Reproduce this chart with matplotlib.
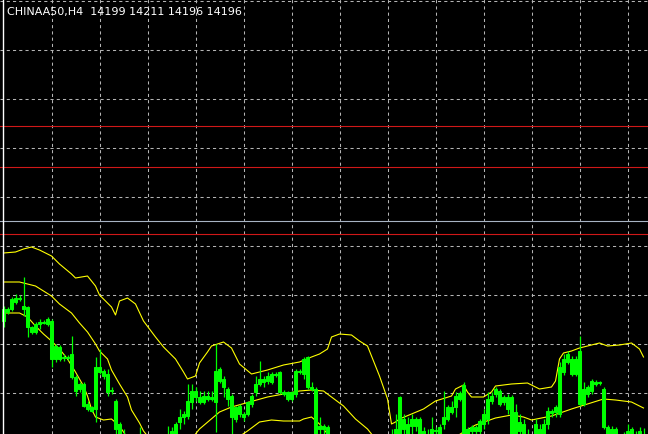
import matplotlib
matplotlib.use("Agg")
import matplotlib.pyplot as plt
import numpy as np


title = "CHINAA50,H4  14199 14211 14196 14196"

# H4 candles, oldest first
opens = [14318, 14330, 14330, 14337, 14341, 14333, 14332, 14312, 14307, 14315,
         14317, 14315, 14318, 14280, 14292, 14281, 14282, 14285, 14262, 14250,
         14255, 14235, 14228, 14230, 14272, 14268, 14265, 14248, 14238, 14215,
         14200, 14195, 14190, 14175, 14190, 14195, 14185, 14180, 14175, 14160,
         14170, 14185, 14208, 14200, 14217, 14222, 14223, 14237, 14248, 14242,
         14237, 14243, 14240, 14237, 14270, 14260, 14250, 14243, 14220, 14233,
         14225, 14225, 14235, 14247, 14255, 14260, 14258, 14257, 14265, 14267,
         14247, 14247, 14240, 14245, 14268, 14265, 14282, 14252, 14250, 14210,
         14213, 14212, 14200, 14190, 14185, 14175, 14170, 14160, 14155, 14150,
         14135, 14135, 14140, 14145, 14155, 14170, 14180, 14190, 14195, 14200,
         14220, 14215, 14213, 14220, 14220, 14208, 14205, 14202, 14209, 14200,
         14215, 14220, 14232, 14232, 14240, 14254, 14210, 14208, 14212, 14208,
         14215, 14220, 14238, 14245, 14248, 14237, 14242, 14242, 14200, 14217,
         14215, 14200, 14200, 14200, 14210, 14205, 14215, 14228, 14227, 14225,
         14267, 14277, 14280, 14265, 14288, 14235, 14252, 14248, 14255, 14257,
         14250, 14212, 14200, 14210, 14200, 14192, 14195, 14210, 14204, 14195,
         14199]
highs = [14333, 14332, 14342, 14345, 14344, 14362, 14333, 14313, 14317, 14320,
         14319, 14322, 14320, 14295, 14294, 14285, 14284, 14303, 14264, 14257,
         14257, 14238, 14233, 14282, 14290, 14270, 14270, 14252, 14240, 14217,
         14210, 14202, 14195, 14195, 14212, 14200, 14195, 14190, 14185, 14190,
         14195, 14213, 14212, 14217, 14230, 14228, 14255, 14255, 14252, 14248,
         14248, 14248, 14248, 14295, 14272, 14263, 14252, 14245, 14233, 14235,
         14227, 14238, 14245, 14263, 14278, 14263, 14267, 14267, 14267, 14268,
         14249, 14248, 14248, 14270, 14270, 14282, 14283, 14257, 14252, 14222,
         14215, 14214, 14205, 14200, 14190, 14180, 14175, 14170, 14165, 14160,
         14155, 14160, 14165, 14170, 14180, 14190, 14200, 14210, 14225, 14243,
         14225, 14222, 14225, 14222, 14222, 14212, 14210, 14222, 14212, 14215,
         14248, 14234, 14238, 14247, 14248, 14257, 14212, 14214, 14214, 14220,
         14230, 14247, 14247, 14252, 14250, 14244, 14245, 14244, 14235, 14225,
         14220, 14210, 14205, 14220, 14215, 14220, 14232, 14230, 14234, 14277,
         14285, 14288, 14283, 14283, 14303, 14257, 14254, 14260, 14259, 14258,
         14252, 14214, 14213, 14212, 14205, 14207, 14215, 14212, 14208, 14212,
         14211]
lows = [14312, 14325, 14328, 14335, 14338, 14323, 14302, 14305, 14305, 14310,
        14315, 14313, 14272, 14277, 14278, 14278, 14279, 14260, 14243, 14247,
        14232, 14228, 14227, 14217, 14265, 14260, 14243, 14245, 14200, 14195,
        14180, 14175, 14165, 14170, 14170, 14162, 14160, 14155, 14150, 14155,
        14160, 14180, 14185, 14195, 14210, 14215, 14220, 14230, 14238, 14235,
        14235, 14238, 14238, 14207, 14256, 14242, 14233, 14205, 14217, 14222,
        14218, 14223, 14232, 14243, 14253, 14252, 14255, 14255, 14262, 14245,
        14243, 14238, 14238, 14242, 14265, 14260, 14250, 14248, 14195, 14200,
        14200, 14195, 14180, 14170, 14162, 14155, 14145, 14140, 14130, 14125,
        14125, 14128, 14135, 14140, 14150, 14160, 14175, 14185, 14190, 14195,
        14200, 14200, 14200, 14208, 14200, 14195, 14190, 14198, 14202, 14195,
        14210, 14218, 14225, 14222, 14238, 14200, 14198, 14205, 14205, 14205,
        14210, 14215, 14235, 14242, 14233, 14234, 14225, 14195, 14195, 14200,
        14195, 14185, 14180, 14195, 14195, 14200, 14210, 14222, 14222, 14222,
        14264, 14275, 14263, 14263, 14233, 14233, 14242, 14245, 14253, 14254,
        14210, 14195, 14195, 14195, 14185, 14188, 14190, 14192, 14190, 14190,
        14196]
closes = [14330, 14327, 14340, 14341, 14340, 14330, 14312, 14307, 14315, 14317,
          14316, 14320, 14280, 14293, 14280, 14282, 14281, 14262, 14248, 14255,
          14233, 14230, 14232, 14272, 14267, 14263, 14247, 14249, 14210, 14200,
          14185, 14180, 14170, 14185, 14180, 14170, 14165, 14160, 14155, 14180,
          14190, 14205, 14190, 14215, 14222, 14225, 14238, 14248, 14242, 14237,
          14243, 14240, 14242, 14268, 14258, 14252, 14240, 14222, 14232, 14225,
          14222, 14237, 14243, 14255, 14260, 14257, 14263, 14265, 14264, 14247,
          14245, 14240, 14247, 14268, 14267, 14280, 14252, 14250, 14200, 14213,
          14210, 14200, 14185, 14175, 14170, 14160, 14150, 14145, 14140, 14130,
          14145, 14150, 14155, 14165, 14175, 14185, 14195, 14200, 14210, 14242,
          14210, 14205, 14220, 14213, 14205, 14202, 14195, 14210, 14208, 14212,
          14222, 14232, 14227, 14243, 14246, 14205, 14202, 14212, 14208, 14218,
          14225, 14240, 14243, 14250, 14235, 14242, 14230, 14200, 14227, 14208,
          14200, 14190, 14185, 14215, 14202, 14215, 14228, 14226, 14232, 14272,
          14280, 14285, 14265, 14280, 14235, 14250, 14245, 14258, 14257, 14256,
          14212, 14200, 14210, 14200, 14190, 14202, 14208, 14198, 14195, 14208,
          14196]

# Bollinger bands, read at some bars
upper_idx = [0, 3, 5, 7, 9, 12, 14, 17, 18, 21, 23, 24, 27, 28, 29, 31, 33, 35, 38, 40,
             43, 45, 46, 48, 49, 51, 52, 55, 57, 59, 62, 66, 70, 74, 77, 79, 81, 82, 84, 87,
             89, 91, 92, 94, 96, 97, 98, 99, 102, 105, 108, 112, 113, 115, 116, 117, 120,
             122, 123, 127, 131, 134, 137, 138, 139, 140, 142, 144, 147, 149, 151, 154,
             157, 159, 160]
upper_val = [14386, 14387, 14390, 14392, 14389, 14383, 14375, 14365, 14361, 14363,
             14353, 14344, 14332, 14324, 14338, 14341, 14335, 14318, 14302, 14292,
             14280, 14267, 14260, 14263, 14276, 14287, 14293, 14297, 14291, 14275,
             14265, 14269, 14274, 14277, 14282, 14285, 14290, 14302, 14305, 14304,
             14298, 14293, 14283, 14263, 14240, 14215, 14217, 14220, 14225, 14230,
             14238, 14243, 14250, 14254, 14247, 14242, 14242, 14247, 14253, 14255,
             14256, 14250, 14252, 14258, 14280, 14286, 14288, 14291, 14294, 14296,
             14293, 14294, 14296, 14290, 14282]
middle_idx = [0, 4, 8, 12, 14, 17, 19, 21, 23, 24, 26, 27, 29, 31, 32, 34, 35, 37, 39, 42,
              44, 46, 49, 54, 57, 66, 74, 77, 80, 82, 85, 88, 91, 94, 99, 104, 109, 113,
              115, 118, 123, 127, 130, 132, 137, 142, 146, 150, 153, 157, 159, 160]
middle_val = [14357, 14357, 14353, 14343, 14335, 14326, 14316, 14307, 14295, 14288,
              14280, 14269, 14255, 14242, 14229, 14216, 14208, 14198, 14190, 14185,
              14188, 14195, 14210, 14227, 14232, 14242, 14248, 14249, 14248, 14242,
              14233, 14220, 14210, 14195, 14180, 14180, 14190, 14202, 14207, 14214,
              14221, 14224, 14222, 14219, 14223, 14230, 14235, 14240, 14239, 14237,
              14233, 14231]
lower_idx = [0, 4, 6, 8, 10, 12, 14, 16, 18, 20, 21, 22, 23, 25, 27, 29, 30, 32, 36, 42,
             48, 54, 58, 61, 64, 67, 70, 74, 75, 77, 79, 81, 84, 90, 100, 110, 120, 130,
             140, 150, 160]
lower_val = [14326, 14326, 14322, 14313, 14305, 14298, 14290, 14280, 14267, 14253,
             14243, 14230, 14222, 14219, 14220, 14213, 14207, 14195, 14175, 14160,
             14170, 14190, 14200, 14208, 14217, 14219, 14218, 14218, 14220, 14222,
             14215, 14205, 14190, 14165, 14145, 14155, 14180, 14190, 14185, 14190,
             14195]

red_levels = [14513, 14472, 14405]
blue_level = 14418


def main():
    fig = plt.figure(figsize=(6.48, 4.35), dpi=100, facecolor="black")
    ax = fig.add_axes([0, 0, 1, 1], facecolor="black")

    ax.set_xlim(-0.875, 161.125)
    ax.set_ylim(14205, 14640)

    # dashed grid
    for gx in np.arange(12.125, 161, 12):
        ax.axvline(gx, color="#b4b4b4", lw=0.75, ls=(0, (3, 3)), zorder=1)
    for gy in np.arange(14638.3, 14200, -49):
        ax.axhline(gy, color="#b4b4b4", lw=0.75, ls=(0, (3, 3)), zorder=1)

    for lvl in red_levels:
        ax.axhline(lvl, color="#d01818", lw=0.8, zorder=2)
    ax.axhline(blue_level, color="#a8b4c4", lw=0.8, zorder=2)

    ax.plot(upper_idx, upper_val, color="#ffff00", lw=0.8, zorder=3)
    ax.plot(middle_idx, middle_val, color="#ffff00", lw=0.8, zorder=3)
    ax.plot(lower_idx, lower_val, color="#ffff00", lw=0.8, zorder=3)

    x = np.arange(len(opens))
    o = np.array(opens)
    c = np.array(closes)
    ax.vlines(x, lows, highs, color="#00ff00", lw=0.9, zorder=4)
    bottom = np.minimum(o, c)
    height = np.maximum(np.abs(c - o), 1)
    ax.bar(x, height, bottom=bottom, width=0.55, color="#00ff00",
           edgecolor="#00ff00", lw=0.75, zorder=5)

    ax.axvline(-0.125, color="white", lw=1.0, zorder=6)

    ax.text(7 / 648, 1 - 7 / 435, title, transform=ax.transAxes, color="white",
            fontsize=8, family="DejaVu Sans", ha="left", va="top", zorder=7)

    ax.set_xticks([])
    ax.set_yticks([])
    for s in ax.spines.values():
        s.set_visible(False)

    fig.savefig("out.png", dpi=100, facecolor="black")


if __name__ == "__main__":
    main()
